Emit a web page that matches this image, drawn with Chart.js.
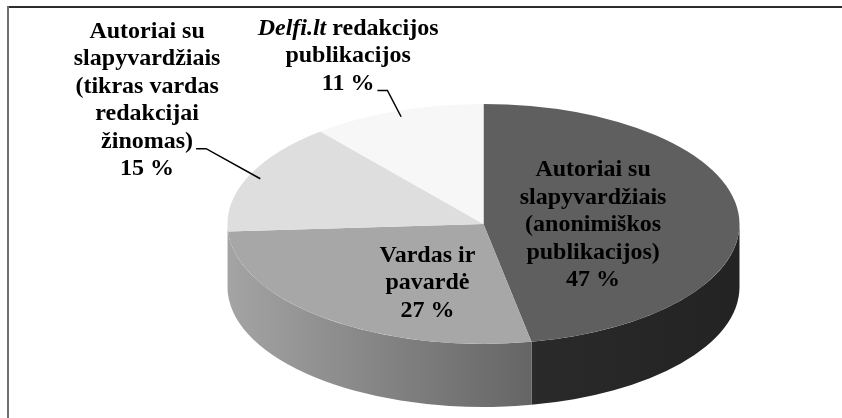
<!DOCTYPE html>
<html>
<head>
<meta charset="utf-8">
<script src="https://cdn.jsdelivr.net/npm/chart.js@4.4.0/dist/chart.umd.min.js"></script>
<style>
html, body { margin: 0; padding: 0; background: #fff; }
#wrap { width: 842px; height: 418px; }
</style>
</head>
<body>
<div id="wrap"><canvas id="pie" width="842" height="418"></canvas></div>
<script>
// ===== DATA =====
const categories = [
    ['Autoriai su', 'slapyvardžiais', '(anonimiškos', 'publikacijos)'],
    ['Vardas ir', 'pavardė'],
    ['Autoriai su', 'slapyvardžiais', '(tikras vardas', 'redakcijai', 'žinomas)'],
    ['Delfi.lt redakcijos', 'publikacijos']
];
const shares = [47, 27, 15, 11];
const italicWords = ['Delfi.lt'];

// ===== STYLE =====
const topColors = ['#5f5f5f', '#a7a7a7', '#dedede', '#f7f7f7'];
const sideColors = [
    ['#343434', '#232323'],
    ['#a4a4a4', '#3a3a3a'],
    ['#b0b0b0', '#8a8a8a'],
    ['#cccccc', '#aaaaaa']
];
const CX = 483.5, CY = 224, RX = 256, RY = 120, DEPTH = 63;
// label block centre, as fraction of RX / RY from the pie centre
const labelPos = [[0.428, 0.01], [-0.219, 0.49], [-1.314, -1.03], [-0.529, -1.4]];
// which text line a leader line starts from (null = no leader)
const leaderLine = [null, null, 4, 2];
const FONT = '"Liberation Serif", "Times New Roman", serif';
const FONT_SIZE = 24, LINE_H = 27.5;

function splitRuns(line) {
    const w = italicWords.find(w => line.includes(w));
    if (!w) return [{ text: line, italic: false }];
    const k = line.indexOf(w);
    return [
        { text: line.slice(0, k), italic: false },
        { text: w, italic: true },
        { text: line.slice(k + w.length), italic: false }
    ].filter(r => r.text);
}

function runFont(r) {
    return (r.italic ? 'italic ' : '') + 'bold ' + FONT_SIZE + 'px ' + FONT;
}

function drawLabels(chart) {
    const ctx = chart.ctx;
    const arcs = chart.getDatasetMeta(0).data;
    ctx.save();
    ctx.fillStyle = '#000';
    ctx.strokeStyle = '#000';
    ctx.textBaseline = 'middle';
    ctx.textAlign = 'left';
    arcs.forEach((arc, i) => {
        const lines = categories[i].concat([shares[i] + ' %']);
        const cx = CX + labelPos[i][0] * RX;
        const cy = CY + labelPos[i][1] * RY;
        const top = cy - (lines.length - 1) * LINE_H / 2;
        lines.forEach((line, k) => {
            const y = top + k * LINE_H;
            const runs = splitRuns(line);
            let total = 0;
            runs.forEach(r => { ctx.font = runFont(r); r.w = ctx.measureText(r.text).width; total += r.w; });
            let x = cx - total / 2;
            runs.forEach(r => { ctx.font = runFont(r); ctx.fillText(r.text, x, y); x += r.w; });
            if (leaderLine[i] === k) {
                const mid = (arc.startAngle + arc.endAngle) / 2;
                const sx = x + 3, sy = y + 7;
                const ex = CX + Math.cos(mid) * RX * 0.95;
                const ey = CY + Math.sin(mid) * RY * 0.95;
                ctx.lineWidth = 1.5;
                ctx.beginPath();
                ctx.moveTo(sx, sy);
                ctx.lineTo(sx + 10, sy);
                ctx.lineTo(ex, ey);
                ctx.stroke();
            }
        });
    });
    ctx.restore();
}

// ===== 3D PIE PLUGIN =====
const pie3d = {
    id: 'pie3d',
    beforeDatasetsDraw(chart) {
        const ctx = chart.ctx;
        const arcs = chart.getDatasetMeta(0).data;
        // side wall, only the front half (0..PI) shows
        arcs.forEach((arc, i) => {
            const a0 = Math.max(arc.startAngle, 0);
            const a1 = Math.min(arc.endAngle, Math.PI);
            if (a1 <= a0) return;
            ctx.beginPath();
            ctx.ellipse(CX, CY, RX, RY, 0, a0, a1);
            ctx.ellipse(CX, CY + DEPTH, RX, RY, 0, a1, a0, true);
            ctx.closePath();
            const g = ctx.createLinearGradient(CX - RX, 0, CX + RX, 0);
            g.addColorStop(0, sideColors[i][0]);
            g.addColorStop(1, sideColors[i][1]);
            ctx.fillStyle = g;
            ctx.fill();
        });
        // squash the library's circle into the top ellipse
        const a = arcs[0];
        ctx.save();
        ctx.translate(CX, CY);
        ctx.scale(RX / a.outerRadius, RY / a.outerRadius);
        ctx.translate(-a.x, -a.y);
    },
    afterDatasetsDraw(chart) {
        chart.ctx.restore();
        drawLabels(chart);
    }
};

const frame = {
    id: 'frame',
    beforeDraw(chart) {
        const ctx = chart.ctx;
        ctx.save();
        ctx.fillStyle = '#fff';
        ctx.fillRect(0, 0, chart.width, chart.height);
        ctx.lineWidth = 2;
        ctx.strokeStyle = '#2d2d2d';
        ctx.beginPath();
        ctx.moveTo(7, 7);
        ctx.lineTo(chart.width, 7);
        ctx.stroke();
        ctx.strokeStyle = '#6e6e6e';
        ctx.beginPath();
        ctx.moveTo(8, 6);
        ctx.lineTo(8, chart.height);
        ctx.stroke();
        ctx.restore();
    }
};

new Chart(document.getElementById('pie'), {
    type: 'pie',
    data: {
        labels: categories,
        datasets: [{
            data: shares,
            backgroundColor: topColors,
            borderWidth: 0,
            clip: false
        }]
    },
    options: {
        responsive: false,
        animation: false,
        events: [],
        layout: { padding: 20 },
        plugins: {
            legend: { display: false },
            tooltip: { enabled: false }
        }
    },
    plugins: [pie3d, frame]
});
</script>
</body>
</html>
